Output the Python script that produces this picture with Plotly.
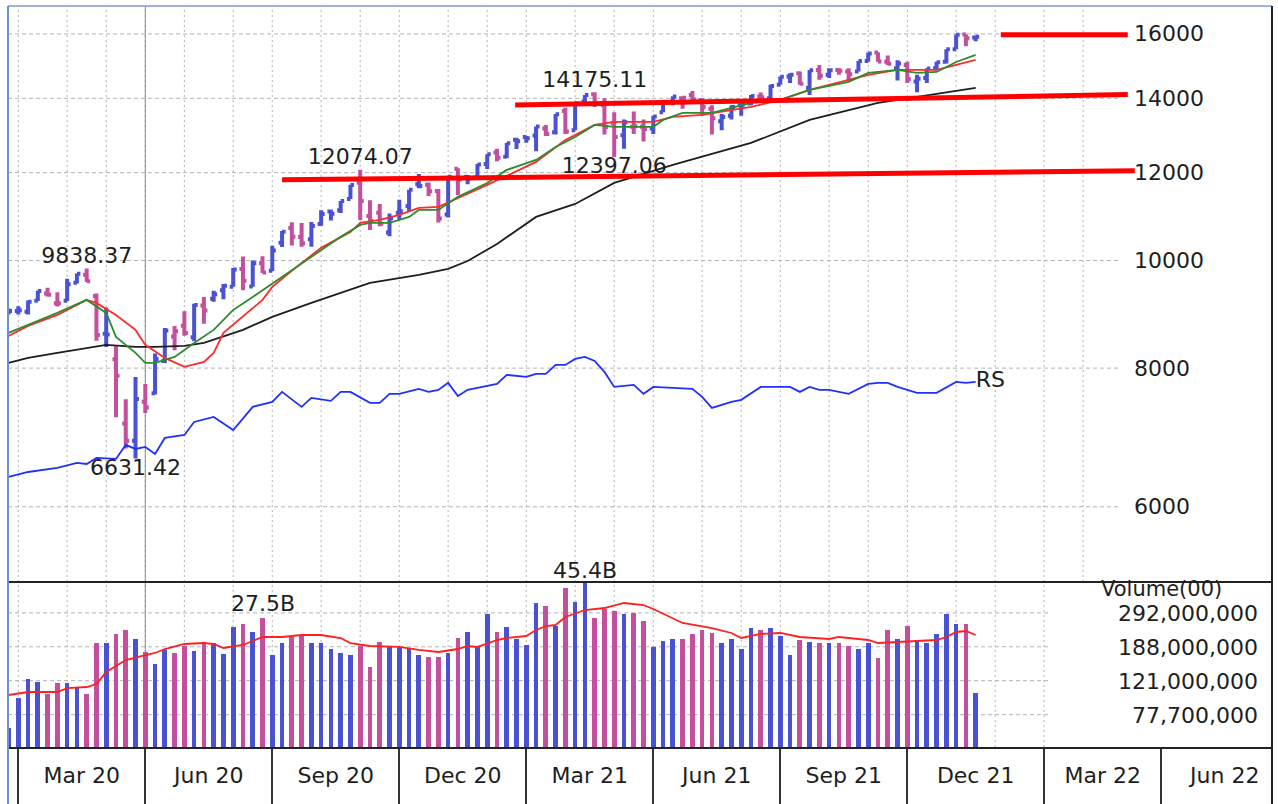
import math
import pandas as pd
import plotly.graph_objects as go

# ---------------- data (weekly, Nasdaq Composite) ----------------
weeks = pd.date_range("2019-12-27", periods=100, freq="7D")

opens = [8946, 9004, 8994, 9200, 9340, 9150, 9201, 9548, 9710, 9292,
         8591, 8147, 7133, 6880, 7459, 7592, 8117, 8540, 8735, 8529,
         9111, 9240, 9400, 9471, 9826, 9474, 9946, 9788, 10376, 10700,
         10500, 10450, 10788, 11070, 11100, 11362, 11750, 10968, 11040, 10600,
         11040, 11200, 11714, 11700, 11550, 11000, 12095, 11900, 11880, 12220,
         12515, 12400, 12850, 12920, 12958, 13150, 13050, 13640, 13100, 13900,
         14122, 13800, 13300, 12970, 13200, 13200, 13150, 13600, 13900, 14000,
         14100, 13950, 13700, 13350, 13500, 13800, 13850, 14050, 14000, 14400,
         14650, 14750, 14300, 14850, 14700, 14850, 14800, 14800, 15130, 15400,
         15100, 14900, 15000, 14500, 14600, 14900, 15100, 15500, 15980, 15880]
highs = [9052, 9093, 9203, 9390, 9451, 9364, 9628, 9734, 9838.37, 9338,
         9070, 8370, 7500, 7854, 7740, 8246, 8692, 8728, 9000, 9143,
         9272, 9394, 9524, 9847, 10086, 10000, 10091, 10310, 10632, 10825,
         10812, 10830, 11102, 11115, 11312, 11700, 12074.07, 11330, 11244, 11027,
         11346, 11580, 11965, 11757, 11600, 11920, 12108, 11940, 12214, 12465,
         12607, 12764, 12903, 12950, 13208, 13246, 13552, 13728, 13879, 14095,
         14175.11, 14000, 13600, 13400, 13620, 13400, 13500, 13900, 14060, 14050,
         14211, 14000, 13800, 13550, 13800, 13850, 14100, 14170, 14400, 14645,
         14750, 14800, 14850, 15000, 14900, 14900, 14900, 15130, 15400, 15403,
         15300, 15150, 15100, 14700, 14900, 15100, 15500, 15980, 15990, 15930]
lows = [8940, 8943, 8943, 9195, 9280, 9089, 9195, 9537, 9564, 8465,
        8356, 7224, 6771, 6631.42, 7288, 7572, 8086, 8301, 8556, 8460,
        8770, 9180, 9229, 9471, 9404, 9470, 9745, 9786, 10286, 10319,
        10289, 10292, 10750, 10865, 11035, 11362, 10876, 10656, 10737, 10519,
        10880, 11083, 11620, 11430, 10822, 10936, 11456, 11713, 11830, 12088,
        12290, 12370, 12600, 12770, 12543, 12950, 12985, 13003, 13100, 13800,
        13750, 12986, 12397.06, 12609, 13000, 12800, 13000, 13600, 13800, 13700,
        13900, 13500, 12986, 13100, 13400, 13500, 13800, 13900, 13950, 14400,
        14450, 14400, 14100, 14550, 14600, 14700, 14500, 14800, 15100, 15100,
        15000, 14530, 14450, 14181, 14450, 14850, 15050, 15500, 15600, 15760]
closes = [9007, 9021, 9179, 9389, 9315, 9151, 9521, 9731, 9577, 8567,
          8576, 7875, 6880, 7502, 7373, 8154, 8650, 8635, 8605, 9121,
          9015, 9325, 9490, 9814, 9589, 9946, 9757, 10208, 10617, 10503,
          10363, 10745, 11011, 11019, 11312, 11696, 11313, 10854, 10793, 10914,
          11075, 11580, 11672, 11548, 10912, 11895, 11829, 11855, 12206, 12464,
          12378, 12756, 12805, 12888, 13202, 12999, 13543, 13071, 13856, 14095,
          13874, 13192, 12920, 13320, 13215, 13139, 13480, 13900, 14052, 14017,
          13963, 13752, 13430, 13471, 13749, 13814, 14069, 14030, 14360, 14639,
          14702, 14427, 14837, 14673, 14836, 14823, 14715, 15130, 15364, 15115,
          15044, 15048, 14567, 14580, 14897, 15090, 15498, 15972, 15861, 15910]
# weekly volume in hundreds of shares ("Volume(00)")
volumes = [65.3e6, 96.5e6, 123.6e6, 118.9e6, 101.7e6, 117.3e6, 117.3e6, 109.9e6, 101.7e6, 197.4e6,
           197.4e6, 222.0e6, 233.8e6, 208.0e6, 175.6e6, 150.2e6, 180.3e6, 173.4e6, 189.9e6, 177.9e6,
           200.0e6, 197.4e6, 171.1e6, 243.1e6, 252.7e6, 227.8e6, 275.0e6, 168.9e6, 197.4e6, 213.5e6,
           216.2e6, 197.4e6, 197.4e6, 182.6e6, 173.4e6, 168.9e6, 189.9e6, 144.5e6, 200.0e6, 187.5e6,
           187.5e6, 182.6e6, 168.9e6, 164.6e6, 164.6e6, 173.4e6, 210.7e6, 227.8e6, 187.5e6, 287.9e6,
           227.8e6, 243.1e6, 208.0e6, 192.4e6, 332.2e6, 319.4e6, 246.2e6, 403.7e6, 336.5e6, 454.0e6,
           273.3e6, 307.2e6, 299.4e6, 287.9e6, 291.7e6, 262.8e6, 187.5e6, 202.6e6, 208.0e6, 208.0e6,
           222.0e6, 233.8e6, 224.9e6, 197.4e6, 208.0e6, 182.6e6, 239.9e6, 233.8e6, 239.9e6, 216.2e6,
           168.9e6, 205.3e6, 200.0e6, 197.4e6, 197.4e6, 197.4e6, 189.9e6, 182.6e6, 197.4e6, 162.4e6,
           233.8e6, 208.0e6, 246.2e6, 202.6e6, 197.4e6, 222.0e6, 287.9e6, 252.7e6, 252.7e6, 103.0e6]

# moving averages / RS line: (week index, value)
red_ma_idx = [0, 2, 5, 8, 9, 11, 13, 14, 16, 18, 20, 21, 22, 24, 26, 27, 30, 32, 35, 36, 38, 40,
              42, 44, 49, 54, 57, 60, 62, 66, 68, 71, 76, 79, 82, 86, 88, 91, 93, 95, 97, 99]
red_ma_val = [8552, 8732, 8933, 9216, 9159, 8933, 8660, 8395, 8171, 8020, 8104, 8256, 8606, 8897,
              9216, 9468, 9951, 10266, 10612, 10811, 10879, 10992, 11153, 11176, 11698, 12270, 12842,
              13249, 13331, 13331, 13470, 13526, 13752, 13953, 14246, 14544, 14695, 14849, 14849,
              14849, 15004, 15160]
green_ma_idx = [0, 2, 5, 8, 10, 11, 13, 14, 15, 17, 19, 21, 23, 25, 28, 30, 32, 34, 36, 37, 39, 41,
                42, 44, 46, 49, 51, 54, 56, 58, 60, 62, 64, 66, 67, 69, 72, 76, 79, 82, 86, 88, 91,
                93, 95, 97, 99]
green_ma_val = [8606, 8750, 8971, 9216, 8971, 8535, 8256, 8087, 8087, 8188, 8429, 8660, 9027, 9273,
                9666, 9951, 10222, 10503, 10767, 10811, 10811, 10947, 11107, 11107, 11411, 11746,
                12068, 12321, 12657, 12922, 13249, 13194, 13194, 13194, 13387, 13582, 13582, 13867,
                13953, 14246, 14484, 14757, 14849, 14757, 14787, 15097, 15318]
black_ma_idx = [0, 2, 5, 8, 10, 13, 15, 18, 20, 24, 27, 31, 34, 37, 42, 45, 47, 50, 54, 58, 62,
                68, 76, 82, 89, 93, 99]
black_ma_val = [8087, 8171, 8256, 8342, 8395, 8360, 8360, 8377, 8429, 8660, 8897, 9159, 9350, 9547,
                9706, 9830, 9990, 10350, 10947, 11246, 11746, 12194, 12762, 13387, 13867, 14041,
                14305]
rs_idx = [0, 2, 5, 7, 8, 9, 11, 12, 13, 14, 15, 16, 18, 19, 21, 23, 25, 27, 28, 30, 31, 33, 34, 35,
          37, 38, 39, 40, 42, 43, 44, 45, 46, 47, 49, 50, 51, 53, 54, 55, 56, 57, 58, 59, 60, 61,
          62, 64, 65, 66, 68, 70, 71, 72, 74, 75, 77, 78, 80, 81, 82, 83, 84, 86, 88, 89, 90, 91,
          93, 95, 97, 98, 99]
rs_val = [6383, 6449, 6503, 6571, 6557, 6640, 6626, 6821, 6765, 6793, 6695, 6921, 6964, 7155, 7230,
          7036, 7382, 7459, 7615, 7382, 7521, 7474, 7615, 7615, 7443, 7443, 7584, 7584, 7663, 7615,
          7647, 7759, 7551, 7647, 7710, 7742, 7888, 7856, 7905, 7905, 8053, 8053, 8154, 8188, 8120,
          7937, 7694, 7726, 7584, 7694, 7678, 7663, 7536, 7366, 7459, 7490, 7694, 7694, 7694, 7615,
          7694, 7647, 7647, 7584, 7742, 7759, 7759, 7694, 7600, 7600, 7775, 7759, 7775]
vol_ma_idx = [0, 2, 5, 6, 8, 9, 10, 12, 14, 15, 16, 18, 20, 21, 22, 24, 25, 26, 28, 30, 32, 34, 35,
              37, 40, 42, 44, 46, 47, 48, 50, 51, 53, 54, 55, 56, 57, 59, 61, 63, 65, 66, 69, 72,
              74, 75, 77, 79, 81, 84, 85, 88, 89, 91, 92, 95, 96, 97, 98, 99]
vol_ma_val = [100.4e6, 104.4e6, 104.4e6, 109.9e6, 111.4e6, 115.8e6, 135.3e6, 158.2e6, 168.9e6,
              173.4e6, 182.6e6, 194.9e6, 197.4e6, 194.9e6, 185.0e6, 192.4e6, 202.6e6, 213.5e6,
              213.5e6, 219.1e6, 219.1e6, 210.7e6, 197.4e6, 189.9e6, 187.5e6, 180.3e6, 175.6e6,
              182.6e6, 189.9e6, 187.5e6, 205.3e6, 210.7e6, 216.2e6, 233.8e6, 246.2e6, 249.5e6,
              276.9e6, 303.2e6, 311.2e6, 332.2e6, 323.6e6, 307.2e6, 256.1e6, 239.9e6, 224.9e6,
              210.7e6, 222.0e6, 224.9e6, 213.5e6, 208.0e6, 213.5e6, 205.3e6, 197.4e6, 200.0e6,
              202.6e6, 205.3e6, 213.5e6, 227.8e6, 230.8e6, 219.1e6]

# value labels
price_label_idx = [8, 13, 36, 60, 62]
price_label_val = [9838.37, 6631.42, 12074.07, 14175.11, 12397.06]
price_label_txt = ["9838.37", "6631.42", "12074.07", "14175.11", "12397.06"]
price_label_pos = ["top center", "bottom center", "top center", "top center", "bottom center"]
vol_label_idx = [26, 59]
vol_label_val = [275.0e6, 454.0e6]
vol_label_txt = ["27.5B", "45.4B"]

# hand-drawn red trend lines
trend_start = ["2020-07-10", "2020-12-24", "2021-12-07"]
trend_end = ["2022-03-13", "2022-03-08", "2022-03-08"]
trend_y0 = [11823, 13808, 15970]
trend_y1 = [12045, 14110, 15975]

# axis ticks
price_ticks = [6000, 8000, 10000, 12000, 14000, 16000]
vol_ticks = [77.7e6, 121e6, 188e6, 292e6]
vol_tick_txt = ["77,700,000", "121,000,000", "188,000,000", "292,000,000"]
quarter_labels = ["Mar 20", "Jun 20", "Sep 20", "Dec 20", "Mar 21", "Jun 21",
                  "Sep 21", "Dec 21", "Mar 22", "Jun 22"]

# ---------------- styling ----------------
UP = "#4a52d4"
DOWN = "#c44f9c"
FONT = "DejaVu Sans"
TXT = "#1e1e1e"
X_RANGE = ["2019-12-26 15:00", "2022-06-19 08:00"]
VOL_RANGE = [7.708, 8.640]   # log10 range of the volume axis
SPLIT = 165 / 741            # volume panel fraction of plot height
BOTTOM = -57 / 741           # bottom of figure in paper coordinates


def first_friday(d):
    return d + pd.Timedelta(days=(4 - d.weekday()) % 7)


up = [closes[i] > (closes[i - 1] if i > 0 else opens[i]) for i in range(len(closes))]
up_i = [i for i in range(len(closes)) if up[i]]
dn_i = [i for i in range(len(closes)) if not up[i]]

fig = go.Figure()

# volume bars
bw = 0.48 * 7 * 86400000
for idx, col in ((up_i, UP), (dn_i, DOWN)):
    fig.add_trace(go.Bar(x=[weeks[i] for i in idx], y=[volumes[i] for i in idx], base=1e5,
                         width=bw, marker=dict(color=col, line=dict(width=0)),
                         xaxis="x", yaxis="y2", hoverinfo="skip"))
fig.add_trace(go.Scatter(x=[weeks[i] for i in vol_ma_idx], y=vol_ma_val, mode="lines",
                         line=dict(color="#ff2020", width=1.8), xaxis="x", yaxis="y2",
                         hoverinfo="skip"))

# moving averages and RS line
for idx, val, col in ((black_ma_idx, black_ma_val, "#1e1e1e"),
                      (red_ma_idx, red_ma_val, "#ff2a2a"),
                      (green_ma_idx, green_ma_val, "#2e8b2e"),
                      (rs_idx, rs_val, "#2030ff")):
    fig.add_trace(go.Scatter(x=[weeks[i] for i in idx], y=val, mode="lines",
                             line=dict(color=col, width=1.8), xaxis="x", yaxis="y",
                             hoverinfo="skip"))

# OHLC bars
for idx, col in ((up_i, UP), (dn_i, DOWN)):
    fig.add_trace(go.Ohlc(x=[weeks[i] for i in idx],
                          open=[opens[i] for i in idx], high=[highs[i] for i in idx],
                          low=[lows[i] for i in idx], close=[closes[i] for i in idx],
                          increasing=dict(line=dict(color=col, width=4)),
                          decreasing=dict(line=dict(color=col, width=4)),
                          tickwidth=0.36, xaxis="x", yaxis="y", hoverinfo="skip"))

# value labels
fig.add_trace(go.Scatter(x=[weeks[i] for i in price_label_idx], y=price_label_val,
                         mode="text", text=price_label_txt, textposition=price_label_pos,
                         textfont=dict(family=FONT, size=22, color=TXT), cliponaxis=False,
                         xaxis="x", yaxis="y", hoverinfo="skip"))
fig.add_trace(go.Scatter(x=[weeks[rs_idx[-1]]], y=[rs_val[-1]], mode="text", text=["RS"],
                         textposition="middle right",
                         textfont=dict(family=FONT, size=22, color=TXT), cliponaxis=False,
                         xaxis="x", yaxis="y", hoverinfo="skip"))

# red trend lines (drawn over the labels)
for s, e, a, b in zip(trend_start, trend_end, trend_y0, trend_y1):
    fig.add_trace(go.Scatter(x=[s, e], y=[a, b], mode="lines",
                             line=dict(color="#ff0000", width=5), xaxis="x", yaxis="y",
                             cliponaxis=False, hoverinfo="skip"))

# ---------------- grid, borders ----------------
shapes = []
months = pd.date_range("2020-01-01", "2022-02-01", freq="MS")
for m in months:
    d = first_friday(m)
    shapes.append(dict(type="line", xref="x", yref="paper", x0=d, x1=d, y0=SPLIT, y1=1,
                       line=dict(color="#b4b4b4", width=1, dash="2px,3px"), layer="below"))
    if m <= pd.Timestamp("2022-01-01"):
        shapes.append(dict(type="line", xref="x", yref="paper", x0=d, x1=d, y0=0, y1=SPLIT,
                           line=dict(color="#b4b4b4", width=1, dash="2px,3px"), layer="below"))
for v in price_ticks:
    shapes.append(dict(type="line", xref="paper", yref="y", x0=0, x1=0.8797, y0=v, y1=v,
                       line=dict(color="#b4b4b4", width=1, dash="4px,3px"), layer="below"))
for v in vol_ticks:
    shapes.append(dict(type="line", xref="paper", yref="y2", x0=0, x1=0.823, y0=v, y1=v,
                       line=dict(color="#b4b4b4", width=1, dash="4px,3px"), layer="below"))
# cursor line
shapes.append(dict(type="line", xref="x", yref="paper", x0="2020-04-03", x1="2020-04-03",
                   y0=0, y1=1, line=dict(color="#8a8a8a", width=1), layer="below"))
# panel divider and borders
shapes.append(dict(type="line", xref="paper", yref="paper", x0=0, x1=1, y0=SPLIT, y1=SPLIT,
                   line=dict(color="#222", width=2)))
shapes.append(dict(type="line", xref="paper", yref="paper", x0=0, x1=1, y0=1, y1=1,
                   line=dict(color="#7d9bd3", width=1.5)))
shapes.append(dict(type="line", xref="paper", yref="paper", x0=0, x1=0, y0=BOTTOM, y1=1,
                   line=dict(color="#6f90cf", width=2)))
shapes.append(dict(type="line", xref="paper", yref="paper", x0=1, x1=1, y0=BOTTOM, y1=1,
                   line=dict(color="#222", width=2)))

# ---------------- axis labels (annotations on log axes use log10 units) ----------------
annotations = []
for v in price_ticks:
    annotations.append(dict(xref="paper", yref="y", x=0.889, y=math.log10(v), text=f"{v}",
                            showarrow=False, xanchor="left", yanchor="middle",
                            font=dict(family=FONT, size=22, color=TXT)))
for v, t in zip(vol_ticks, vol_tick_txt):
    annotations.append(dict(xref="paper", yref="y2", x=0.9905, y=math.log10(v), text=t,
                            showarrow=False, xanchor="right", yanchor="middle", yshift=-1,
                            font=dict(family=FONT, size=22, color=TXT)))
annotations.append(dict(xref="paper", yref="paper", x=0.962, y=(747 - 589) / 741,
                        text="Volume(00)", showarrow=False, xanchor="right", yanchor="middle",
                        font=dict(family=FONT, size=21, color=TXT)))
# volume value labels: pinned to the panel top when the bar runs off the scale
for i, v, t in zip(vol_label_idx, vol_label_val, vol_label_txt):
    lv = math.log10(v)
    if lv < VOL_RANGE[1]:
        annotations.append(dict(xref="x", yref="y2", x=weeks[i], y=lv, text=t,
                                showarrow=False, xanchor="center", yanchor="bottom",
                                font=dict(family=FONT, size=22, color=TXT)))
    else:
        annotations.append(dict(xref="x", yref="paper", x=weeks[i], y=SPLIT, text=t,
                                showarrow=False, xanchor="center", yanchor="bottom",
                                yshift=-3, font=dict(family=FONT, size=22, color=TXT)))

q_starts = [first_friday(pd.Timestamp(f"{y}-{m:02d}-01"))
            for y in (2020, 2021, 2022) for m in (1, 4, 7, 10)][:11]
q_mid = [q_starts[k] + (q_starts[k + 1] - q_starts[k]) / 2 for k in range(len(quarter_labels))]

fig.update_layout(
    width=1278, height=804,
    margin=dict(l=8, r=6, t=6, b=57),
    paper_bgcolor="white", plot_bgcolor="white",
    showlegend=False, bargap=0,
    shapes=shapes, annotations=annotations,
    font=dict(family=FONT, size=22, color=TXT),
    xaxis=dict(type="date", range=X_RANGE, anchor="y2", showgrid=False, zeroline=False,
               rangeslider=dict(visible=False),
               showline=True, linecolor="#222", linewidth=2,
               tickmode="array", tickvals=q_mid, ticktext=quarter_labels,
               ticks="outside", ticklen=8, tickcolor="rgba(0,0,0,0)",
               tickfont=dict(family=FONT, size=22, color=TXT),
               minor=dict(tickmode="array", tickvals=q_starts[:10], ticks="outside",
                          ticklen=57, tickwidth=2, tickcolor="#333", showgrid=False)),
    yaxis=dict(type="log", domain=[SPLIT, 1], range=[3.7104, 4.2293], anchor="x",
               showgrid=False, zeroline=False, showticklabels=False, ticks=""),
    yaxis2=dict(type="log", domain=[0, SPLIT], range=VOL_RANGE, anchor="x",
                showgrid=False, zeroline=False, showticklabels=False, ticks=""),
)

fig.write_html("out.html", config={"displayModeBar": False},
               post_script="document.body.style.margin='0';document.body.style.overflow='hidden';")
